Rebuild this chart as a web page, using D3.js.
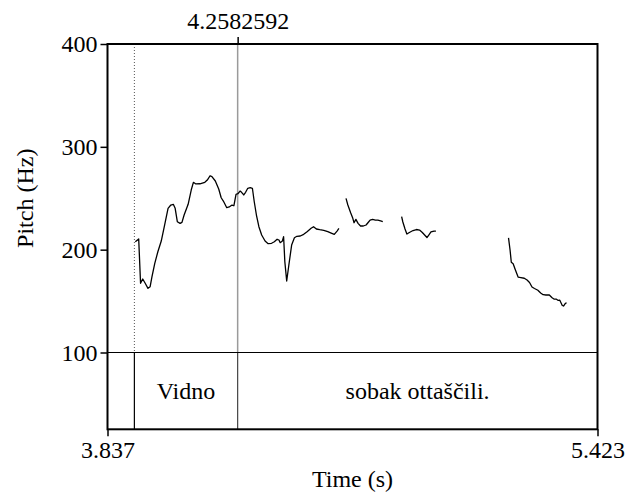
<!DOCTYPE html>
<html><head><meta charset="utf-8">
<script src="https://cdn.jsdelivr.net/npm/d3@7"></script>
<style>body{margin:0;background:#fff}svg{display:block}text{font-family:"Liberation Serif","DejaVu Serif",serif;fill:#000}</style>
</head><body>
<script>
// ---- data ----
const timeRange = [3.837, 5.423];
const pitchRange = [100, 400];
const pitchTicks = [100, 200, 300, 400];
const xTickLabels = ["3.837", "5.423"];
const cursorTime = 4.2582592;
const cursorLabel = "4.2582592";
const boundaries = [3.924, 4.2582592];
const intervalStarts = [3.924, 4.2582592];
const intervalEnds = [4.2582592, 5.423];
const intervalLabels = ["Vidno", "sobak ottaščili."];

const seg1Time = [3.927,3.938,3.944,3.951,3.959,3.968,3.975,3.981,3.990,4.000,4.011,4.022,4.033,4.042,4.050,4.056,4.063,4.072,4.078,4.085,4.098,4.108,4.115,4.123,4.136,4.152,4.160,4.169,4.175,4.186,4.197,4.205,4.212,4.223,4.231,4.240,4.246,4.253,4.259,4.266,4.271,4.278,4.284,4.291,4.299,4.306,4.312,4.319,4.327,4.336,4.347,4.357,4.368,4.377,4.386,4.392,4.396,4.403,4.407,4.411,4.417,4.424,4.433,4.442,4.450,4.461,4.472,4.483,4.496,4.504,4.513,4.524,4.537,4.550,4.563,4.571,4.580,4.586];
const seg1Pitch = [207.7,210.4,167.3,171.5,167.3,162.4,164.0,173.7,186.7,198.0,208.4,224.0,240.2,243.4,244.1,240.2,227.2,225.6,226.6,233.7,244.1,258.0,265.5,263.9,264.1,265.5,267.7,271.9,271.0,266.8,259.0,250.5,247.3,240.8,241.5,243.4,242.7,253.8,254.4,257.0,255.8,253.2,255.8,259.7,260.3,259.7,246.6,233.7,222.3,214.3,208.4,205.8,206.2,207.7,210.1,209.4,206.8,208.4,212.6,188.3,169.5,185.1,204.5,211.6,213.0,213.3,214.9,217.5,220.8,222.3,220.1,219.4,218.8,217.5,215.9,214.9,218.1,220.8];
const seg2Time = [4.609,4.615,4.624,4.631,4.635,4.641,4.648,4.656,4.665,4.674,4.680,4.687,4.695,4.704,4.712,4.721,4.728];
const seg2Pitch = [249.9,243.4,235.9,230.5,226.2,229.5,225.6,223.0,223.0,224.0,226.2,228.8,229.5,228.8,228.8,227.9,227.2];
const seg3Time = [4.789,4.793,4.800,4.806,4.814,4.826,4.837,4.847,4.856,4.865,4.871,4.878,4.884,4.894,4.900];
const seg3Pitch = [232.2,226.9,220.1,215.2,216.7,218.6,219.6,219.1,216.7,213.8,211.8,214.7,217.2,218.1,218.1];
const seg4Time = [5.135,5.140,5.144,5.150,5.157,5.166,5.175,5.186,5.195,5.203,5.211,5.219,5.230,5.239,5.247,5.256,5.267,5.276,5.282,5.289,5.296,5.301,5.309,5.313,5.319,5.323];
const seg4Pitch = [211.5,199.7,187.8,186.3,180.5,173.4,172.9,172.2,170.5,168.1,163.7,162.2,160.5,157.9,156.2,155.9,155.9,153.2,152.0,152.0,150.6,150.8,145.7,145.2,147.8,148.4];

// ---- layout ----
const W = 627, H = 498;
const L = 107.5, R = 597.5, T = 44, B = 429.3;
const FS = 24;
const FONT = "Liberation Serif, DejaVu Serif, serif";
const svg = d3.select("body").append("svg").attr("width", W).attr("height", H);
const x = d3.scaleLinear().domain(timeRange).range([L, R]);
const y = d3.scaleLinear().domain(pitchRange).range([352.5, T]);
const tierTop = y(pitchRange[0]);

// boundaries in pitch area
svg.append("line").attr("x1", x(boundaries[0])).attr("x2", x(boundaries[0]))
  .attr("y1", T).attr("y2", tierTop).attr("stroke", "#555").attr("stroke-width", 1).attr("stroke-dasharray", "1,2");
svg.append("line").attr("x1", x(boundaries[1])).attr("x2", x(boundaries[1]))
  .attr("y1", T).attr("y2", tierTop).attr("stroke", "#9a9a9a").attr("stroke-width", 1.5);
// boundaries in tier
boundaries.forEach((b, i) => {
  svg.append("line").attr("x1", x(b)).attr("x2", x(b)).attr("y1", tierTop).attr("y2", B)
    .attr("stroke", i === 0 ? "#000" : "#444").attr("stroke-width", 1.2);
});
// tier top line
svg.append("line").attr("x1", L).attr("x2", R).attr("y1", tierTop).attr("y2", tierTop)
  .attr("stroke", "#000").attr("stroke-width", 1.2);

// pitch curve
const line = d3.line().x(d => x(d[0])).y(d => y(d[1]));
[[seg1Time, seg1Pitch], [seg2Time, seg2Pitch], [seg3Time, seg3Pitch], [seg4Time, seg4Pitch]].forEach(([ts, ps]) => {
  svg.append("path").attr("d", line(ts.map((t, i) => [t, ps[i]])))
    .attr("fill", "none").attr("stroke", "#000").attr("stroke-width", 1.3).attr("stroke-linejoin", "round");
});

// frame
svg.append("rect").attr("x", L).attr("y", T).attr("width", R - L).attr("height", B - T)
  .attr("fill", "none").attr("stroke", "#000").attr("stroke-width", 2);

// y axis
const yAxis = d3.axisLeft(y).tickValues(pitchTicks).tickSize(7).tickSizeOuter(0).tickPadding(3).tickFormat(d3.format("d"));
const gy = svg.append("g").attr("transform", `translate(${L},0)`).call(yAxis);
gy.attr("font-family", FONT).attr("font-size", FS);
gy.select(".domain").remove();
gy.selectAll("line").attr("stroke", "#000").attr("stroke-width", 1.5);
gy.selectAll("text").attr("dy", "0.33em");

// x axis (bottom)
const xAxis = d3.axisBottom(x).tickValues(timeRange).tickSize(7).tickSizeOuter(0).tickPadding(5)
  .tickFormat((d, i) => xTickLabels[i]);
const gx = svg.append("g").attr("transform", `translate(0,${B})`).call(xAxis);
gx.attr("font-family", FONT).attr("font-size", FS);
gx.select(".domain").remove();
gx.selectAll("line").attr("stroke", "#000").attr("stroke-width", 1.5);

// top cursor axis
const tAxis = d3.axisTop(x).tickValues([cursorTime]).tickSize(7).tickSizeOuter(0).tickPadding(8)
  .tickFormat(() => cursorLabel);
const gt = svg.append("g").attr("transform", `translate(0,${T})`).call(tAxis);
gt.attr("font-family", FONT).attr("font-size", FS);
gt.select(".domain").remove();
gt.selectAll("line").attr("stroke", "#000").attr("stroke-width", 1.5);

// interval labels
intervalLabels.forEach((lab, i) => {
  svg.append("text").attr("x", (x(intervalStarts[i]) + x(intervalEnds[i])) / 2)
    .attr("y", (tierTop + B) / 2).attr("dy", "0.33em").attr("text-anchor", "middle")
    .attr("font-family", FONT).attr("font-size", FS).text(lab);
});

// axis titles
svg.append("text").attr("x", (L + R) / 2).attr("y", 487).attr("text-anchor", "middle")
  .attr("font-family", FONT).attr("font-size", FS).text("Time (s)");
svg.append("text").attr("transform", `translate(33,${(T + tierTop) / 2}) rotate(-90)`)
  .attr("text-anchor", "middle").attr("font-family", FONT).attr("font-size", FS).text("Pitch (Hz)");
</script>
</body></html>
